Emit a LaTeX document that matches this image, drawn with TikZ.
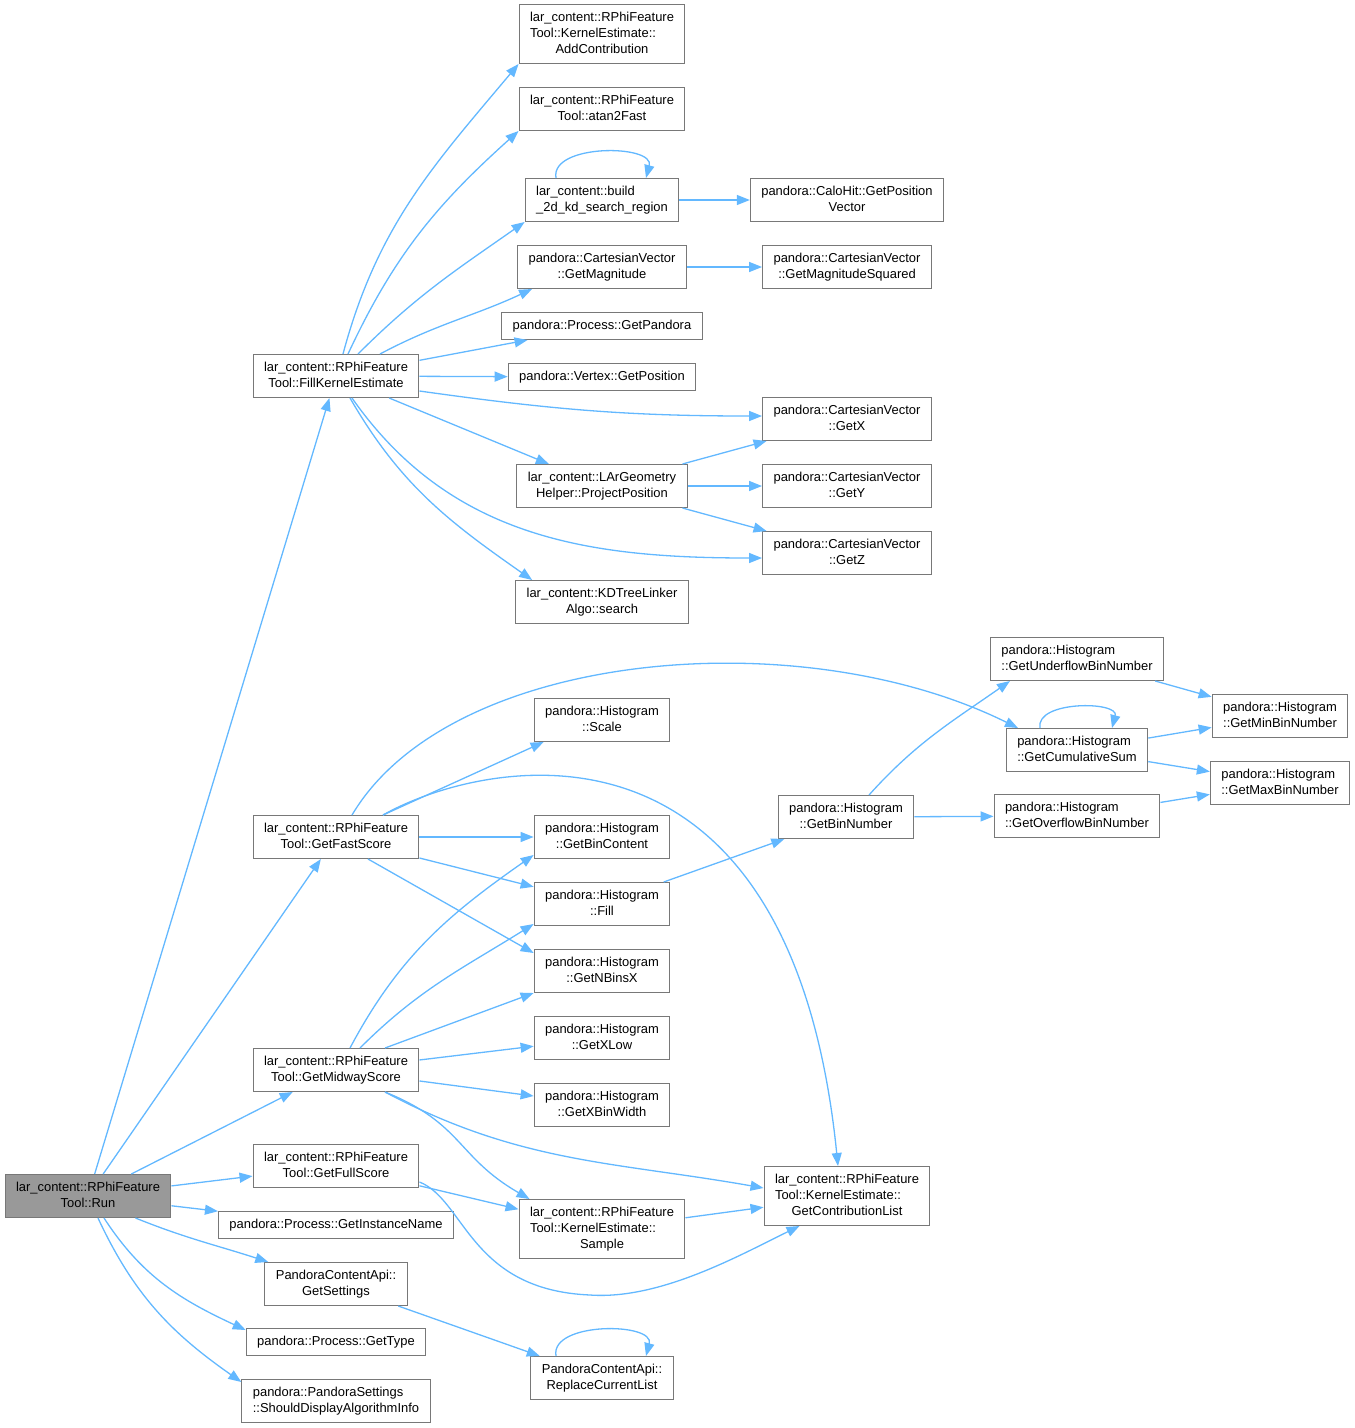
\documentclass[tikz,border=0pt]{standalone}
\usepackage{fontspec}
\setmainfont{Liberation Sans}
\usetikzlibrary{arrows.meta,positioning}
\definecolor{edgeblue}{RGB}{99,184,255}
\definecolor{boxgray}{RGB}{120,120,120}
\definecolor{rootgray}{RGB}{153,153,153}
\newcommand{\twoln}[2]{\begin{tabular}{@{}l@{}}#1\\\multicolumn{1}{@{}c@{}}{#2}\end{tabular}}
\newcommand{\threeln}[3]{\begin{tabular}{@{}l@{}}#1\\#2\\\multicolumn{1}{@{}c@{}}{#3}\end{tabular}}
\tikzset{
  fbox/.style={draw=boxgray,line width=1pt,fill=white,rectangle,inner xsep=11pt,inner ysep=0pt,font=\fontsize{12.95pt}{16pt}\selectfont},
  one/.style={fbox,minimum height=27pt,text height=11.2pt,text depth=4.8pt},
  two/.style={fbox,minimum height=43pt},
  three/.style={fbox,minimum height=59pt},
  root/.style={two,fill=rootgray},
  edge/.style={draw=edgeblue,line width=1.3pt,-{Triangle[length=13pt,width=10pt]}}
}
\begin{document}
\begin{tikzpicture}[x=1pt,y=1pt,node distance=67pt]
  \path[use as bounding box] (0,0) rectangle (1355,-1428);
  \node (run) [root] at (88,-1196) {\twoln{lar\_content::RPhiFeature}{Tool::Run}};
  \node (fke) [two] at (336,-376) {\twoln{lar\_content::RPhiFeature}{Tool::FillKernelEstimate}};
  \node (gfs) [two] at (336,-837) {\twoln{lar\_content::RPhiFeature}{Tool::GetFastScore}};
  \node (gms) [two] at (336,-1070) {\twoln{lar\_content::RPhiFeature}{Tool::GetMidwayScore}};
  \node (gfu) [two] at (336,-1166) {\twoln{lar\_content::RPhiFeature}{Tool::GetFullScore}};
  \node (gin) [one] at (336,-1225) {pandora::Process::GetInstanceName};
  \node (gse) [two] at (336,-1284) {\twoln{PandoraContentApi::}{GetSettings}};
  \node (gty) [one] at (336,-1342) {pandora::Process::GetType};
  \node (sda) [two] at (336,-1401) {\twoln{pandora::PandoraSettings}{::ShouldDisplayAlgorithmInfo}};

  \node (add) [three] at (602,-34) {\threeln{lar\_content::RPhiFeature}{Tool::KernelEstimate::}{AddContribution}};
  \node (atan) [two] at (602,-109) {\twoln{lar\_content::RPhiFeature}{Tool::atan2Fast}};
  \node (bld) [two] at (602,-200) {\twoln{lar\_content::build}{\_2d\_kd\_search\_region}};
  \node (gmag) [two] at (602,-267) {\twoln{pandora::CartesianVector}{::GetMagnitude}};
  \node (gpan) [one] at (602,-326) {pandora::Process::GetPandora};
  \node (gpos) [one] at (602,-377) {pandora::Vertex::GetPosition};
  \node (proj) [two] at (602,-486) {\twoln{lar\_content::LArGeometry}{Helper::ProjectPosition}};
  \node (srch) [two] at (602,-602) {\twoln{lar\_content::KDTreeLinker}{Algo::search}};
  \node (scl) [two] at (602,-720) {\twoln{pandora::Histogram}{::Scale}};
  \node (gbc) [two] at (602,-837) {\twoln{pandora::Histogram}{::GetBinContent}};
  \node (fill) [two,below of=gbc] {\twoln{pandora::Histogram}{::Fill}};
  \node (nbx) [two,below of=fill] {\twoln{pandora::Histogram}{::GetNBinsX}};
  \node (xlo) [two,below of=nbx] {\twoln{pandora::Histogram}{::GetXLow}};
  \node (xbw) [two,below of=xlo] {\twoln{pandora::Histogram}{::GetXBinWidth}};
  \node (smp) [three] at (602,-1229) {\threeln{lar\_content::RPhiFeature}{Tool::KernelEstimate::}{Sample}};
  \node (rcl) [two] at (602,-1378) {\twoln{PandoraContentApi::}{ReplaceCurrentList}};

  \node (gpv) [two] at (847,-200) {\twoln{pandora::CaloHit::GetPosition}{Vector}};
  \node (gmsq) [two] at (847,-267) {\twoln{pandora::CartesianVector}{::GetMagnitudeSquared}};
  \node (gx) [two] at (847,-419) {\twoln{pandora::CartesianVector}{::GetX}};
  \node (gy) [two,below of=gx] {\twoln{pandora::CartesianVector}{::GetY}};
  \node (gz) [two,below of=gy] {\twoln{pandora::CartesianVector}{::GetZ}};
  \node (gbn) [two] at (846,-817) {\twoln{pandora::Histogram}{::GetBinNumber}};
  \node (gcl) [three] at (847,-1196) {\threeln{lar\_content::RPhiFeature}{Tool::KernelEstimate::}{GetContributionList}};

  \node (gub) [two] at (1077,-659) {\twoln{pandora::Histogram}{::GetUnderflowBinNumber}};
  \node (gcs) [two] at (1077,-750) {\twoln{pandora::Histogram}{::GetCumulativeSum}};
  \node (gob) [two] at (1077,-816) {\twoln{pandora::Histogram}{::GetOverflowBinNumber}};
  \node (gmin) [two] at (1280,-716) {\twoln{pandora::Histogram}{::GetMinBinNumber}};
  \node (gmax) [two] at (1280,-783) {\twoln{pandora::Histogram}{::GetMaxBinNumber}};

  \draw[edge] (run) -- (fke);
  \draw[edge] (run) -- (gfs);
  \draw[edge] (run) -- (gms);
  \draw[edge] (run) -- (gfu);
  \draw[edge] (run) -- (gin);
  \draw[edge] ([xshift=-36pt]run.south east) to[out=-22,in=162] (gse);
  \draw[edge] ([xshift=16pt]run.south) to[out=-57,in=155] ([yshift=-2pt]gty.north west);
  \draw[edge] ([xshift=10pt]run.south) to[out=-65,in=145] ([yshift=-3pt]sda.north west);

  \draw[edge] ([xshift=7pt]fke.north) to[out=75,in=-130] (add.south west);
  \draw[edge] ([xshift=12pt]fke.north) to[out=65,in=-138] (atan.south west);
  \draw[edge] ([xshift=22pt]fke.north) to[out=45,in=-145] (bld.south west);
  \draw[edge] ([xshift=44pt]fke.north) to[out=28,in=-155] ([xshift=15pt]gmag.south west);
  \draw[edge] (fke) -- (gpan);
  \draw[edge] (fke) -- (gpos);
  \draw[edge] ([yshift=-15pt]fke.east) to[out=-8,in=180] ([yshift=3pt]gx.west);
  \draw[edge] (fke) -- (proj);
  \draw[edge] ([xshift=16pt]fke.south) to[out=-55,in=180] ([yshift=-5pt]gz.west);
  \draw[edge] ([xshift=14pt]fke.south) to[out=-60,in=145] ([xshift=17pt]srch.north west);
  \draw[edge] ([xshift=-46pt]bld.north) to[out=100,in=75] ([xshift=44pt]bld.north);
  \draw[edge] (bld) -- (gpv);
  \draw[edge] (gmag) -- (gmsq);
  \draw[edge] (proj) -- (gx);
  \draw[edge] (proj) -- (gy);
  \draw[edge] (proj) -- (gz);

  \draw[edge] ([xshift=16pt]gfs.north) .. controls (450,-650) and (800,-620) .. ([xshift=-59pt]gcs.north);
  \draw[edge] ([xshift=47pt]gfs.north) -- ([xshift=10pt]scl.south west);
  \draw[edge] ([xshift=47pt]gfs.north) .. controls (480,-760) and (790,-690) .. ([xshift=-9pt]gcl.north);
  \draw[edge] (gfs) -- (gbc);
  \draw[edge] (gfs) -- (fill);
  \draw[edge] ([xshift=32pt]gfs.south) -- ([yshift=18pt]nbx.west);

  \draw[edge] ([xshift=14pt]gms.north) to[out=62,in=-145] ([yshift=-18pt]gbc.west);
  \draw[edge] ([xshift=24pt]gms.north) to[out=45,in=-148] ([yshift=-20pt]fill.west);
  \draw[edge] ([xshift=49pt]gms.north) -- (nbx.south west);
  \draw[edge] (gms) -- (xlo);
  \draw[edge] (gms) -- (xbw);
  \draw[edge] ([xshift=49pt]gms.south) to[out=-28,in=170] ([yshift=8pt]gcl.west);
  \draw[edge] ([xshift=49pt]gms.south) to[out=-22,in=150,looseness=1.2] ([xshift=11pt]smp.north west);
  \draw[edge] (gfu) -- (smp);
  \draw[edge] ([yshift=-16pt]gfu.east) .. controls (465,-1200) and (470,-1290) .. (590,-1295)
    .. controls (660,-1300) and (740,-1255) .. ([xshift=36pt]gcl.south west);
  \draw[edge] (smp) -- (gcl);
  \draw[edge] (gse) -- (rcl);
  \draw[edge] ([xshift=-46pt]rcl.north) to[out=100,in=75] ([xshift=44pt]rcl.north);

  \draw[edge] (fill) -- (gbn);
  \draw[edge] ([xshift=23pt]gbn.north) to[out=48,in=-145] ([xshift=20pt]gub.south west);
  \draw[edge] (gbn) -- (gob);
  \draw[edge] (gub) -- (gmin);
  \draw[edge] ([xshift=-37pt]gcs.north) to[out=100,in=75] ([xshift=35pt]gcs.north);
  \draw[edge] (gcs) -- (gmin);
  \draw[edge] (gcs) -- (gmax);
  \draw[edge] (gob) -- (gmax);
\end{tikzpicture}
\end{document}
